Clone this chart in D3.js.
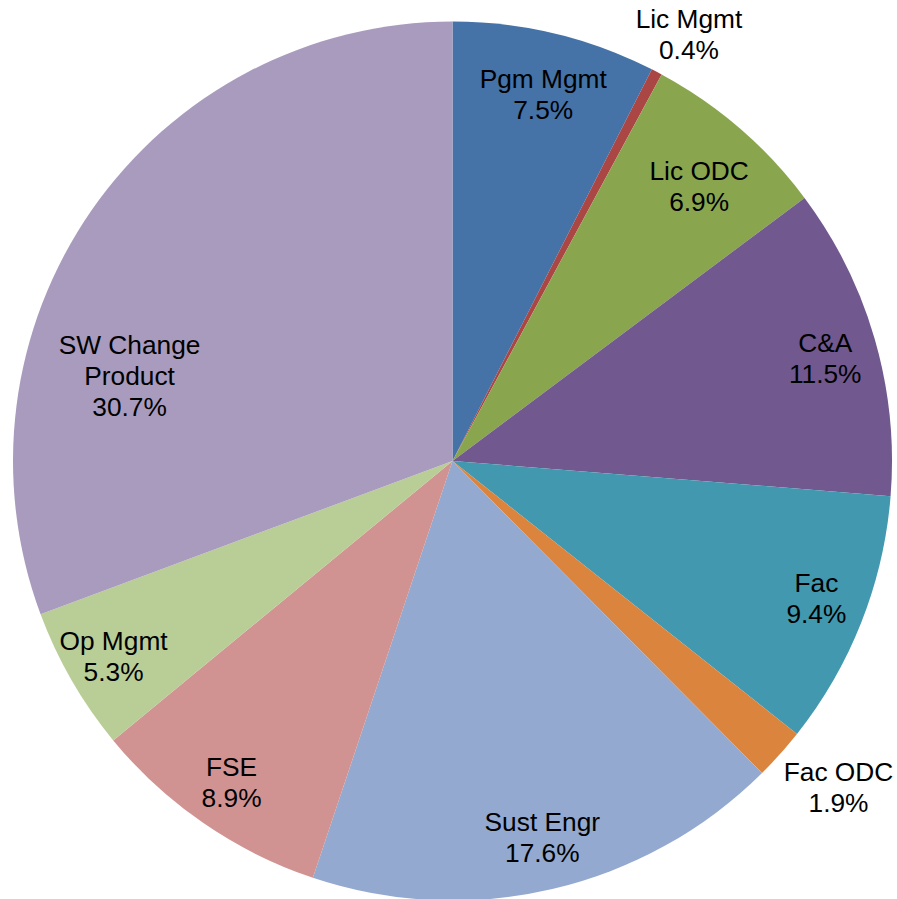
<!DOCTYPE html>
<html>
<head>
<meta charset="utf-8">
<script src="https://cdn.jsdelivr.net/npm/d3@7"></script>
<style>
  body { margin: 0; background: #fff; }
  text { font-family: "Liberation Sans", Arial, sans-serif; }
</style>
</head>
<body>
<script>
// slice data, clockwise from 12 o'clock
var categories = ["Pgm Mgmt", "Lic Mgmt", "Lic ODC", "C&A", "Fac", "Fac ODC",
                  "Sust Engr", "FSE", "Op Mgmt", "SW Change Product"];
var values = [7.5, 0.4, 6.9, 11.5, 9.4, 1.9, 17.6, 8.9, 5.3, 30.7];
var colors = ["#4572A7", "#AA4643", "#89A54E", "#71588F", "#4198AF",
              "#DB843D", "#93A9CF", "#D19392", "#B9CD96", "#A99BBD"];

// label placement (fraction of radius, angle nudge in degrees)
var labelRadius = [0.86, 1.11, 0.84, 0.88, 0.885, 1.15, 0.88, 0.887, 0.89, 0.76];
var labelShift  = [0.4, 1.3, 1.1, 0.6, -0.8, -1.6, -0.3, 0, 0, -20];
// line breaks for labels
var labelLines = [["Pgm Mgmt"], ["Lic Mgmt"], ["Lic ODC"], ["C&A"], ["Fac"], ["Fac ODC"],
                  ["Sust Engr"], ["FSE"], ["Op Mgmt"], ["SW Change", "Product"]];

var width = 897;
var height = 899;
var radius = 439.5;
var cx = 452.5, cy = 461;

var svg = d3.select("body")
  .append("svg")
  .attr("width", width)
  .attr("height", height);

var g = svg.append("g")
  .attr("transform", `translate(${cx}, ${cy})`);

var pie = d3.pie().sort(null).value(function(d) { return d; });
var arcs = pie(values);

var arc = d3.arc().innerRadius(0).outerRadius(radius);

g.selectAll("path")
  .data(arcs)
  .enter()
  .append("path")
  .attr("d", arc)
  .attr("fill", function(d, i) { return colors[i]; });

var fontSize = 26.3, lineH = 31;

var labels = g.selectAll("text.lbl")
  .data(arcs)
  .enter()
  .append("text")
  .attr("class", "lbl")
  .attr("text-anchor", "middle")
  .attr("font-size", fontSize)
  .attr("fill", "#000")
  .attr("transform", function(d, i) {
    var a = (d.startAngle + d.endAngle) / 2 + labelShift[i] * Math.PI / 180;
    var r = radius * labelRadius[i];
    return `translate(${r * Math.sin(a)}, ${-r * Math.cos(a)})`;
  });

labels.each(function(d, i) {
  var lines = labelLines[i].concat([values[i].toFixed(1) + "%"]);
  var t = d3.select(this);
  var y0 = -(lines.length - 1) * lineH / 2 + fontSize * 0.36;
  lines.forEach(function(s, k) {
    t.append("tspan").attr("x", 0).attr("y", y0 + k * lineH).text(s);
  });
});
</script>
</body>
</html>
